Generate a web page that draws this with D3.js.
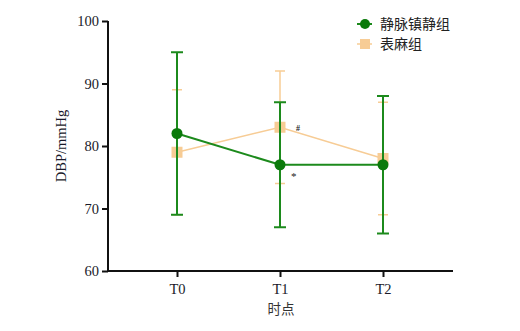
<!DOCTYPE html>
<html><head><meta charset="utf-8">
<script src="https://cdn.jsdelivr.net/npm/d3@7"></script>
<style>body{margin:0;background:#fff}svg{display:block}</style>
</head><body>
<svg id="c" width="520" height="331"></svg>
<script>
const categories = ["T0","T1","T2"];
const groupNames = ["静脉镇静组","表麻组"];
const greenMean = [82,77,77];
const greenLow = [69,67,66];
const greenHigh = [95,87,88];
const orangeMean = [79,83,78];
const orangeLow = [69,74,69];
const orangeHigh = [89,92,87];
const yTicks = [60,70,80,90,100];

const svg = d3.select("#c");
const x = d3.scalePoint().domain(categories).range([177,383]);
const y = d3.scaleLinear().domain([60,100]).range([271,21]);
const serif = "'Liberation Serif','DejaVu Serif',serif";
const green = "#1c8a1c", greenDark = "#0b7a0b", orange = "#f7cc95";

// axes
const ya = svg.append("g").attr("transform","translate(108,0)")
  .call(d3.axisLeft(y).tickValues(yTicks).tickSize(6).tickPadding(3));
const xa = svg.append("g").attr("transform","translate(0,271)")
  .call(d3.axisBottom(x).tickSize(6).tickPadding(7));
xa.select(".domain").attr("d","M107,0H453");
ya.select(".domain").attr("d","M0,21V272");
[ya,xa].forEach(a=>{
  a.attr("font-size",null);
  a.selectAll(".domain,line").attr("stroke","#111").attr("stroke-width",2);
  a.selectAll("text").attr("font-family",serif).style("font-size","14.5px").attr("fill","#1a1a2a");
});

svg.append("text").attr("transform","translate(66,146) rotate(-90)").attr("text-anchor","middle")
  .attr("font-family",serif).style("font-size","14.5px").attr("fill","#1a1a2a").text("DBP/mmHg");
svg.append("text").attr("x",281).attr("y",314).attr("text-anchor","middle")
  .attr("font-family","'Noto Sans CJK SC',sans-serif").style("font-size","13.5px").attr("fill","#333").text("时点");

function series(mean, lo, hi, color, w, capW){
  const g = svg.append("g");
  categories.forEach((c,i)=>{
    g.append("line").attr("x1",x(c)).attr("x2",x(c)).attr("y1",y(lo[i])).attr("y2",y(hi[i]))
      .attr("stroke",color).attr("stroke-width",w);
    [lo[i],hi[i]].forEach(v=>g.append("line").attr("x1",x(c)-capW).attr("x2",x(c)+capW)
      .attr("y1",y(v)).attr("y2",y(v)).attr("stroke",color).attr("stroke-width",w));
  });
  g.append("path").attr("d",d3.line().x((d,i)=>x(categories[i])).y(d=>y(d))(mean))
    .attr("fill","none").attr("stroke",color).attr("stroke-width",w);
  return g;
}
const og = series(orangeMean, orangeLow, orangeHigh, orange, 1.5, 5);
og.selectAll("rect").data(orangeMean).join("rect")
  .attr("x",(d,i)=>x(categories[i])-5.5).attr("y",d=>y(d)-5.5).attr("width",11).attr("height",11)
  .attr("fill",orange);
const gg = series(greenMean, greenLow, greenHigh, green, 2, 6);
gg.selectAll("circle").data(greenMean).join("circle")
  .attr("cx",(d,i)=>x(categories[i])).attr("cy",d=>y(d)).attr("r",5.5).attr("fill",greenDark);

svg.append("text").attr("x",296).attr("y",131).attr("font-family",serif).style("font-size","8px").attr("font-weight","bold").attr("fill","#222").text("#");
svg.append("text").attr("x",291).attr("y",180).attr("font-family",serif).style("font-size","11px").attr("fill","#222").text("*");

// legend
const lg = svg.append("g");
lg.append("line").attr("x1",357).attr("x2",372).attr("y1",24).attr("y2",24).attr("stroke",green).attr("stroke-width",2);
lg.append("circle").attr("cx",365).attr("cy",24).attr("r",5).attr("fill",greenDark);
lg.append("line").attr("x1",357).attr("x2",372).attr("y1",44).attr("y2",44).attr("stroke",orange).attr("stroke-width",1.5);
lg.append("rect").attr("x",360).attr("y",39).attr("width",10).attr("height",10).attr("fill",orange);
groupNames.forEach((n,i)=>lg.append("text").attr("x",380).attr("y",29+i*20)
  .attr("font-family","'Noto Sans CJK SC',sans-serif").style("font-size","14px").attr("fill","#222").text(n));
</script>
</body></html>
